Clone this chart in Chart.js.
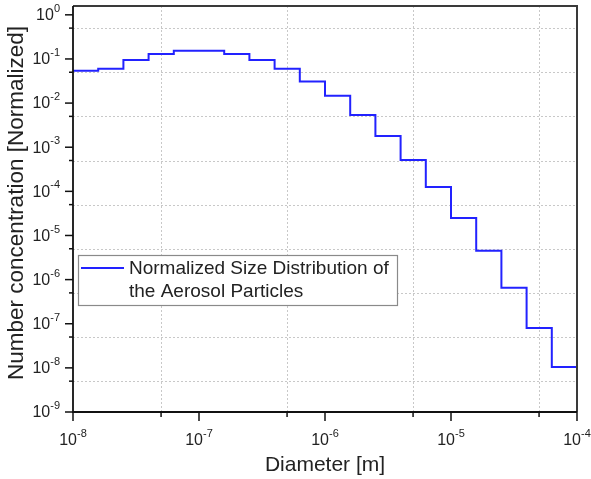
<!DOCTYPE html>
<html>
<head>
<meta charset="utf-8">
<script src="https://cdn.jsdelivr.net/npm/chart.js@4.4.1/dist/chart.umd.min.js"></script>
<style>
  html, body { margin: 0; padding: 0; background: #fff; }
  #wrap { width: 591px; height: 479px; position: relative; }
</style>
</head>
<body>
<div id="wrap"><canvas id="sizeChart"></canvas></div>
<script>
// bin edges (left edge of each step, plus the last right edge) and values
const binEdges = [1e-8, 1.585e-8, 2.512e-8, 3.981e-8, 6.31e-8,
  1e-7, 1.585e-7, 2.512e-7, 3.981e-7, 6.31e-7,
  1e-6, 1.585e-6, 2.512e-6, 3.981e-6, 6.31e-6,
  1e-5, 1.585e-5, 2.512e-5, 3.981e-5, 6.31e-5, 1e-4];
const concentration = [0.054, 0.06, 0.095, 0.13, 0.153,
  0.153, 0.13, 0.095, 0.06, 0.031,
  0.0146, 0.0054, 0.0018, 5.1e-4, 1.26e-4,
  2.5e-5, 4.5e-6, 6.5e-7, 8e-8, 1.05e-8];

const xMajor = [1e-8, 1e-7, 1e-6, 1e-5, 1e-4];
const xMajorExp = ['-8', '-7', '-6', '-5', '-4'];
const xMinor = [5e-8, 5e-7, 5e-6, 5e-5];
const yMajor = [1e0, 1e-1, 1e-2, 1e-3, 1e-4, 1e-5, 1e-6, 1e-7, 1e-8, 1e-9];
const yMajorExp = ['0', '-1', '-2', '-3', '-4', '-5', '-6', '-7', '-8', '-9'];
const yMinor = [5e-1, 5e-2, 5e-3, 5e-4, 5e-5, 5e-6, 5e-7, 5e-8, 5e-9];

const seriesLabel = ['Normalized Size Distribution of', 'the Aerosol Particles'];
const xTitle = 'Diameter [m]';
const yTitle = 'Number concentration [Normalized]';

const FONT = '"Liberation Sans", Arial, sans-serif';
const LINE_COLOR = '#2222ff';

const points = binEdges.map((x, i) => ({ x: x, y: concentration[Math.min(i, concentration.length - 1)] }));

function pow10(ctx, exp, x, y, align) {
  ctx.font = '16px ' + FONT;
  const wBase = ctx.measureText('10').width;
  ctx.font = '11px ' + FONT;
  const wExp = ctx.measureText(exp).width;
  let left = x;
  if (align === 'right') left = x - wBase - wExp;
  else if (align === 'center') left = x - (wBase + wExp) / 2;
  ctx.textAlign = 'left';
  ctx.textBaseline = 'middle';
  ctx.font = '16px ' + FONT;
  ctx.fillText('10', left, y);
  ctx.font = '11px ' + FONT;
  ctx.fillText(exp, left + wBase, y - 7);
}

const axesPlugin = {
  id: 'originAxes',
  beforeDatasetsDraw(chart) {
    const { ctx, chartArea: a, scales: { x, y } } = chart;
    ctx.save();
    ctx.strokeStyle = '#c8c8c8';
    ctx.lineWidth = 1;
    ctx.setLineDash([2, 2]);
    xMinor.forEach(v => {
      const px = Math.round(x.getPixelForValue(v)) + 0.5;
      ctx.beginPath(); ctx.moveTo(px, a.top); ctx.lineTo(px, a.bottom); ctx.stroke();
    });
    yMinor.forEach(v => {
      const py = Math.round(y.getPixelForValue(v)) + 0.5;
      ctx.beginPath(); ctx.moveTo(a.left, py); ctx.lineTo(a.right, py); ctx.stroke();
    });
    ctx.restore();
  },
  afterDatasetsDraw(chart) {
    const { ctx, chartArea: a, scales: { x, y } } = chart;
    ctx.save();
    // frame
    ctx.setLineDash([]);
    ctx.strokeStyle = '#3a3a3a';
    ctx.lineWidth = 2;
    ctx.beginPath();
    ctx.moveTo(a.left, a.top); ctx.lineTo(a.right, a.top); ctx.lineTo(a.right, a.bottom);
    ctx.stroke();
    ctx.strokeStyle = '#111';
    ctx.lineWidth = 1.8;
    ctx.beginPath();
    ctx.moveTo(a.left, a.top); ctx.lineTo(a.left, a.bottom); ctx.lineTo(a.right, a.bottom);
    ctx.stroke();

    // tick marks
    ctx.lineWidth = 1.5;
    xMajor.forEach(v => {
      const px = x.getPixelForValue(v);
      ctx.beginPath(); ctx.moveTo(px, a.bottom); ctx.lineTo(px, a.bottom + 9); ctx.stroke();
    });
    xMinor.forEach(v => {
      const px = x.getPixelForValue(v);
      ctx.beginPath(); ctx.moveTo(px, a.bottom); ctx.lineTo(px, a.bottom + 5); ctx.stroke();
    });
    yMajor.forEach(v => {
      const py = y.getPixelForValue(v);
      ctx.beginPath(); ctx.moveTo(a.left, py); ctx.lineTo(a.left - 8, py); ctx.stroke();
    });
    yMinor.forEach(v => {
      const py = y.getPixelForValue(v);
      ctx.beginPath(); ctx.moveTo(a.left, py); ctx.lineTo(a.left - 4, py); ctx.stroke();
    });

    // tick labels
    ctx.fillStyle = '#222';
    xMajor.forEach((v, i) => pow10(ctx, xMajorExp[i], x.getPixelForValue(v), a.bottom + 29, 'center'));
    yMajor.forEach((v, i) => pow10(ctx, yMajorExp[i], a.left - 13, y.getPixelForValue(v) + 1, 'right'));

    // axis titles
    ctx.font = '21px ' + FONT;
    ctx.textAlign = 'center';
    ctx.textBaseline = 'middle';
    ctx.fillText(xTitle, 325, 465);
    ctx.save();
    ctx.translate(17, 203);
    ctx.rotate(-Math.PI / 2);
    ctx.font = '22.5px ' + FONT;
    ctx.fillText(yTitle, 0, 0);
    ctx.restore();

    // legend box
    ctx.fillStyle = '#fff';
    ctx.fillRect(78, 255, 319, 50);
    ctx.strokeStyle = '#8a8a8a';
    ctx.lineWidth = 1.2;
    ctx.strokeRect(78.5, 255.5, 319, 50);
    ctx.strokeStyle = LINE_COLOR;
    ctx.lineWidth = 2;
    ctx.beginPath(); ctx.moveTo(81, 268); ctx.lineTo(124, 268); ctx.stroke();
    ctx.fillStyle = '#222';
    ctx.font = '19px ' + FONT;
    ctx.textAlign = 'left';
    ctx.fillText(seriesLabel[0], 129, 269);
    ctx.fillText(seriesLabel[1], 129, 292);
    ctx.restore();
  }
};

new Chart(document.getElementById('sizeChart'), {
  type: 'line',
  data: {
    datasets: [{
      label: seriesLabel.join(' '),
      data: points,
      stepped: true,
      borderColor: LINE_COLOR,
      borderWidth: 2,
      pointRadius: 0,
      fill: false
    }]
  },
  options: {
    responsive: true,
    maintainAspectRatio: false,
    animation: false,
    layout: { padding: { left: 73, right: 14, top: 6, bottom: 67 } },
    scales: {
      x: { type: 'logarithmic', min: 1e-8, max: 1e-4, display: false },
      y: { type: 'logarithmic', min: 1e-9, max: 1.585, display: false }
    },
    plugins: {
      legend: { display: false },
      tooltip: { enabled: false }
    }
  },
  plugins: [axesPlugin]
});
</script>
</body>
</html>
